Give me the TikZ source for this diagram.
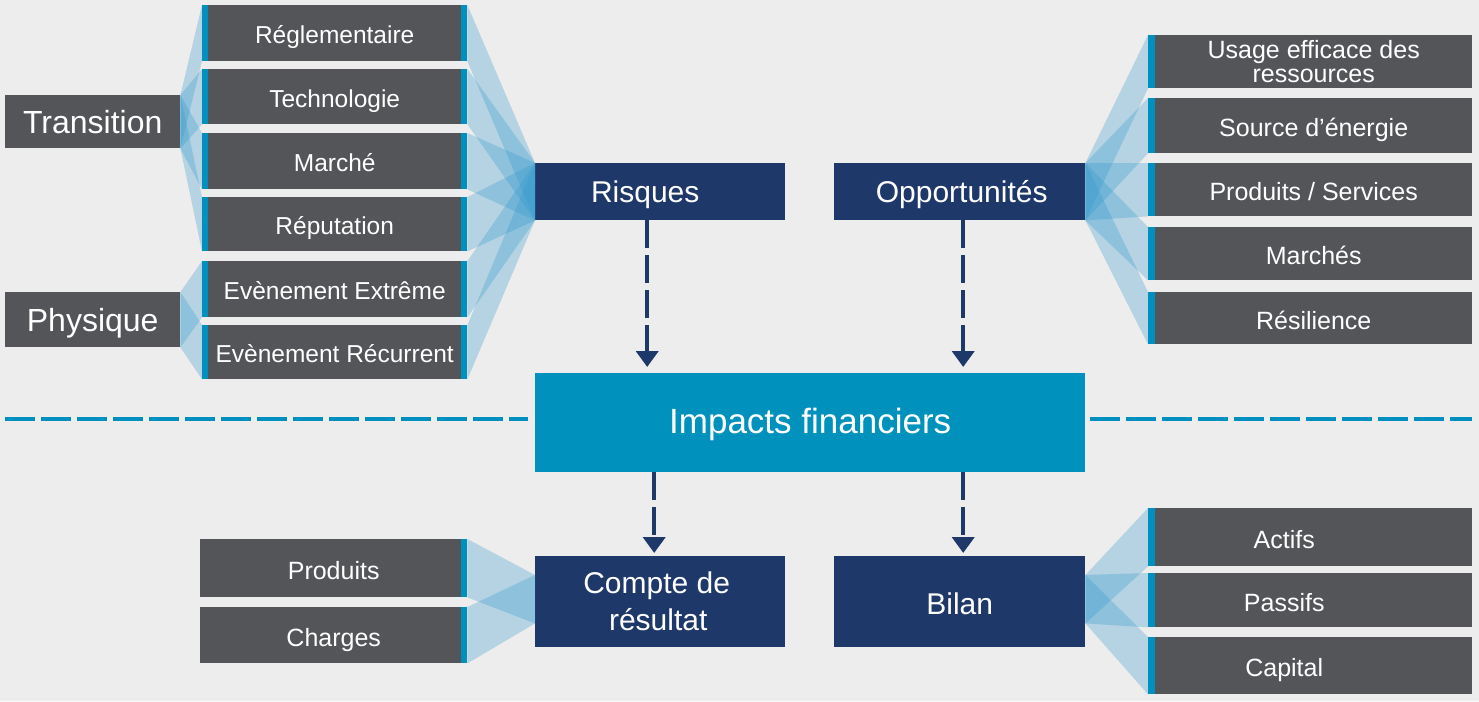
\documentclass[tikz,border=0pt]{standalone}
\usepackage{fontspec}
\setmainfont{Liberation Sans}
\usetikzlibrary{arrows.meta,calc}
\definecolor{bg}{RGB}{238,237,237}
\definecolor{graybox}{RGB}{84,85,89}
\definecolor{navy}{RGB}{31,56,106}
\definecolor{impact}{RGB}{0,145,189}
\definecolor{stripe}{RGB}{0,144,192}
\definecolor{fanc}{RGB}{51,153,204}
\begin{document}
\begin{tikzpicture}[x=1pt,y=-1pt,
  base/.style={inner sep=0pt, anchor=north west, text=white, align=center},
  fixh/.style={text height=#1, text depth=0pt},
  gbox/.style={base, fill=graybox, font=\fontsize{24.5}{26}\selectfont, fixh=21.5pt},
  rbox/.style={base, fill=graybox, font=\fontsize{25}{24}\selectfont, fixh=22pt},
  rbox2/.style={base, fill=graybox, font=\fontsize{25}{24}\selectfont},
  bbox/.style={base, fill=graybox, font=\fontsize{25}{26}\selectfont, fixh=22pt},
  cat/.style={base, fill=graybox, font=\fontsize{32}{34}\selectfont, fixh=24pt},
  nbox/.style={base, fill=navy, font=\fontsize{30}{36}\selectfont, fixh=26pt},
  nbox2/.style={base, fill=navy, font=\fontsize{30}{37}\selectfont},
  ibox/.style={base, fill=impact, font=\fontsize{35}{38}\selectfont, fixh=22pt},
  fan/.style={fill=fanc, fill opacity=0.3},
  stripefill/.style={fill=stripe},
  darr/.style={draw=navy, line width=4pt, dash pattern=on 28pt off 7pt, -{Triangle[width=22pt,length=16pt]}},
  sepline/.style={draw=stripe, line width=4pt, dash pattern=on 30pt off 6pt}
]
\fill[bg] (0,0) rectangle (1479,701);
\useasboundingbox (0,0) rectangle (1479,701);

% ---------- boxes (nodes) ----------
\node[cat, minimum width=175pt, minimum height=53pt] (trans) at (5,95) {Transition};
\node[cat, minimum width=175pt, minimum height=55pt] (phys) at (5,292) {Physique};

\node[gbox, minimum width=265pt, minimum height=56pt] (regl) at (202,5) {Réglementaire};
\node[gbox, minimum width=265pt, minimum height=55pt] (tech) at (202,69) {Technologie};
\node[gbox, minimum width=265pt, minimum height=56pt] (marc) at (202,133) {Marché};
\node[gbox, minimum width=265pt, minimum height=54pt] (repu) at (202,197) {Réputation};
\node[gbox, minimum width=265pt, minimum height=56pt] (evex) at (202,261) {Evènement Extrême};
\node[gbox, minimum width=265pt, minimum height=54pt] (evre) at (202,325) {Evènement Récurrent};

\node[nbox, fixh=22.5pt, minimum width=250pt, minimum height=57pt] (risq) at (535,163) {Risques\hspace*{30pt}};
\node[nbox, fixh=22.5pt, minimum width=251pt, minimum height=57pt] (oppo) at (834,163) {\hspace*{4pt}Opportunités};
\node[ibox, minimum width=550pt, minimum height=99pt] (imp) at (535,373) {Impacts financiers};
\node[nbox2, minimum width=250pt, minimum height=91pt] (comp) at (535,556) {Compte de\hspace*{7pt}\\résultat\hspace*{4pt}};
\node[nbox, minimum width=251pt, minimum height=91pt] (bila) at (834,556) {Bilan};

\node[bbox, minimum width=267pt, minimum height=58pt] (prod) at (200,539) {Produits};
\node[bbox, minimum width=267pt, minimum height=56pt] (char) at (200,607) {Charges};

\node[rbox2, minimum width=324pt, minimum height=53pt] (usag) at (1148,35) {\hspace*{7pt}Usage efficace des\\\hspace*{7pt}ressources};
\node[rbox, minimum width=324pt, minimum height=55pt] (sour) at (1148,98) {\hspace*{7pt}Source d’énergie};
\node[rbox, minimum width=324pt, minimum height=53pt] (prse) at (1148,163) {\hspace*{7pt}Produits / Services};
\node[rbox, minimum width=324pt, minimum height=53pt] (mars) at (1148,227) {\hspace*{7pt}Marchés};
\node[rbox, minimum width=324pt, minimum height=52pt] (resi) at (1148,292) {\hspace*{7pt}Résilience};

\node[rbox, minimum width=324pt, minimum height=58pt] (acti) at (1148,508) {Actifs\hspace*{52pt}};
\node[rbox, minimum width=324pt, minimum height=54pt] (pass) at (1148,573) {Passifs\hspace*{52pt}};
\node[rbox, minimum width=324pt, minimum height=57pt] (capi) at (1148,637) {Capital\hspace*{52pt}};

% ---------- fans ----------
\foreach \b in {regl,tech,marc,repu}
  \fill[fan] (trans.north east) -- (\b.north west) -- (\b.south west) -- (trans.south east) -- cycle;
\foreach \b in {evex,evre}
  \fill[fan] (phys.north east) -- (\b.north west) -- (\b.south west) -- (phys.south east) -- cycle;
\foreach \b in {regl,tech,marc,repu,evex,evre}
  \fill[fan] (\b.north east) -- (risq.north west) -- (risq.south west) -- (\b.south east) -- cycle;
\foreach \b in {usag,sour,prse,mars,resi}
  \fill[fan] (oppo.north east) -- (\b.north west) -- (\b.south west) -- (oppo.south east) -- cycle;
\foreach \b in {prod,char}
  \fill[fan] (\b.north east) -- ($(comp.north west)+(0,19)$) -- ($(comp.south west)+(0,-24)$) -- (\b.south east) -- cycle;
\foreach \b in {acti,pass,capi}
  \fill[fan] ($(bila.north east)+(0,19)$) -- (\b.north west) -- (\b.south west) -- ($(bila.south east)+(0,-24)$) -- cycle;

% ---------- stripes ----------
\foreach \b in {regl,tech,marc,repu,evex,evre}{
  \fill[stripefill] (\b.north west) rectangle ($(\b.south west)+(6,0)$);
  \fill[stripefill] (\b.north east) rectangle ($(\b.south east)+(-6,0)$);
}
\foreach \b in {prod,char}
  \fill[stripefill] (\b.north east) rectangle ($(\b.south east)+(-6,0)$);
\foreach \b in {usag,sour,prse,mars,resi,acti,pass,capi}
  \fill[stripefill] (\b.north west) rectangle ($(\b.south west)+(7,0)$);

% ---------- separator ----------
\coordinate (sepL) at (5,419);
\coordinate (sepR) at (1472,419);
\draw[sepline] (sepL) -- ($(imp.west |- sepL)+(-7,0)$);
\draw[sepline] ($(imp.east |- sepR)+(5,0)$) -- (sepR);

% ---------- arrows ----------
\draw[darr] ($(risq.south)+(-13,0)$) -- ($(risq.south |- imp.north)+(-13,-6)$);
\draw[darr] ($(oppo.south)+(3.5,0)$) -- ($(oppo.south |- imp.north)+(3.5,-6)$);
\draw[darr] ($(comp.north |- imp.south)+(-6,0)$) -- ($(comp.north)+(-6,-3)$);
\draw[darr] ($(bila.north |- imp.south)+(3.5,0)$) -- ($(bila.north)+(3.5,-3)$);
\end{tikzpicture}
\end{document}
